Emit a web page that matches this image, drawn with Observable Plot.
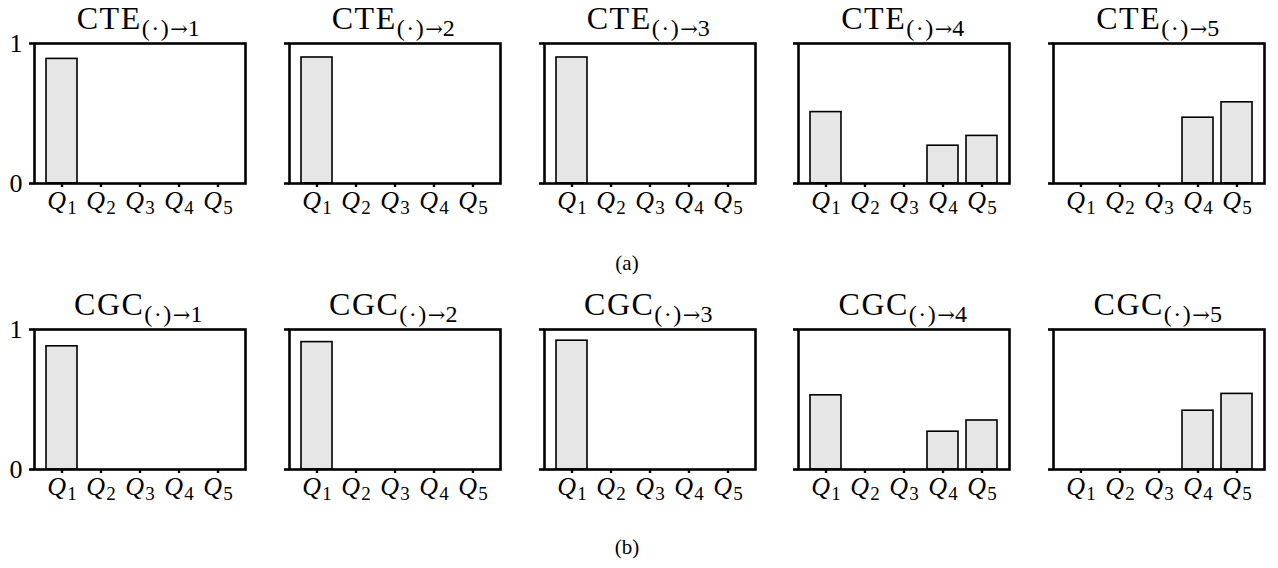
<!DOCTYPE html>
<html>
<head>
<meta charset="utf-8">
<script src="https://cdn.jsdelivr.net/npm/d3@7"></script>
<script src="https://cdn.jsdelivr.net/npm/@observablehq/plot@0.6"></script>
<style>
  html, body { margin: 0; padding: 0; background: #fff; }
  #fig { position: relative; width: 1278px; height: 568px; font-family: "Liberation Serif", "DejaVu Serif", serif; color: #000; overflow: hidden; }
  .ptitle { position: absolute; width: 260px; text-align: center; font-size: 32px; line-height: 30px; white-space: nowrap; letter-spacing: 1.5px; }
  .ptitle .sub { font-size: 24px; position: relative; top: 7px; line-height: 0; letter-spacing: 1.5px; }
  .ptitle .arr { font-family: "DejaVu Serif", serif; font-size: 21px; letter-spacing: 0; }
  .cap { position: absolute; width: 80px; text-align: center; font-size: 21px; line-height: 21px; }
  .panel { position: absolute; }
</style>
</head>
<body>
<div id="fig"></div>
<script>
// ---- data ----
const quantiles = ["Q1", "Q2", "Q3", "Q4", "Q5"];
const targets = ["1", "2", "3", "4", "5"];
const rowNames = ["CTE", "CGC"];
const rowCaptions = ["(a)", "(b)"];

const cte1 = [0.89, 0, 0, 0, 0];
const cte2 = [0.90, 0, 0, 0, 0];
const cte3 = [0.90, 0, 0, 0, 0];
const cte4 = [0.51, 0, 0, 0.27, 0.34];
const cte5 = [0, 0, 0, 0.47, 0.58];

const cgc1 = [0.88, 0, 0, 0, 0];
const cgc2 = [0.91, 0, 0, 0, 0];
const cgc3 = [0.92, 0, 0, 0, 0];
const cgc4 = [0.53, 0, 0, 0.27, 0.35];
const cgc5 = [0, 0, 0, 0.42, 0.54];

const rows = [
  [cte1, cte2, cte3, cte4, cte5],
  [cgc1, cgc2, cgc3, cgc4, cgc5]
];

// ---- layout ----
const fig = document.getElementById("fig");
const frameLefts = [33.5, 288.5, 543.5, 798, 1053];
const rowTops = [38, 324];      // svg top
const titleTops = [3, 289];
const capTops = [253, 537];
const ML = 34, MR = 5, MT = 5, MB = 40, W = 250, H = 185;
const SERIF = "'Liberation Serif', 'DejaVu Serif', serif";

rows.forEach((row, r) => {
  row.forEach((vals, p) => {
    const data = quantiles.map((q, i) => ({q, v: vals[i]}));
    const first = p === 0;
    const chart = Plot.plot({
      width: W, height: H,
      marginLeft: ML, marginRight: MR, marginTop: MT, marginBottom: MB,
      style: "font-family: " + SERIF + "; font-size: 23px; background: transparent; overflow: visible;",
      x: {type: "band", domain: quantiles, paddingInner: 0.2, paddingOuter: 0.24, align: 0.5, label: null},
      y: {domain: [0, 1], label: null},
      marks: [
        Plot.barY(data.filter(d => d.v > 0), {x: "q", y: "v", fill: "#e6e6e6", stroke: "#000", strokeWidth: 1.6}),
        Plot.frame({stroke: "#000", strokeWidth: 2.6}),
        Plot.axisY({ticks: [0, 1], tickSize: 5, strokeWidth: 2.6, tickPadding: 7,
                    tickFormat: first ? (d => String(d)) : (() => ""), label: null}),
        Plot.axisX({tickSize: 4, strokeWidth: 2.4, tickPadding: 3, label: null})
      ]
    });
    const ns = "http://www.w3.org/2000/svg";
    chart.querySelectorAll('g[aria-label="y-axis tick label"] text').forEach(t => {
      t.style.fontFamily = SERIF;
      t.style.fontSize = "26px";
    });
    // italic Q with upright subscript digit
    chart.querySelectorAll('g[aria-label="x-axis tick label"] text').forEach(t => {
      const s = t.textContent;
      t.textContent = "";
      t.style.fontFamily = SERIF;
      t.style.fontSize = "26px";
      const a = document.createElementNS(ns, "tspan");
      a.style.fontStyle = "italic";
      a.style.fontSize = "26px";
      a.style.letterSpacing = "1px";
      a.textContent = s.slice(0, 1);
      const b = document.createElementNS(ns, "tspan");
      b.style.fontSize = "19px";
      b.setAttribute("dy", "5");
      b.textContent = s.slice(1);
      t.appendChild(a); t.appendChild(b);
    });
    const wrap = document.createElement("div");
    wrap.className = "panel";
    wrap.style.left = (frameLefts[p] - ML) + "px";
    wrap.style.top = rowTops[r] + "px";
    wrap.appendChild(chart);
    fig.appendChild(wrap);

    const title = document.createElement("div");
    title.className = "ptitle";
    title.style.left = (frameLefts[p] + (W - ML - MR) / 2 - 130) + "px";
    title.style.top = titleTops[r] + "px";
    title.innerHTML = rowNames[r] + '<span class="sub">(\u00B7)<span class="arr">\u2192</span>' + targets[p] + '</span>';
    fig.appendChild(title);
  });
  const cap = document.createElement("div");
  cap.className = "cap";
  cap.style.left = (627 - 40) + "px";
  cap.style.top = capTops[r] + "px";
  cap.textContent = rowCaptions[r];
  fig.appendChild(cap);
});
</script>
</body>
</html>
